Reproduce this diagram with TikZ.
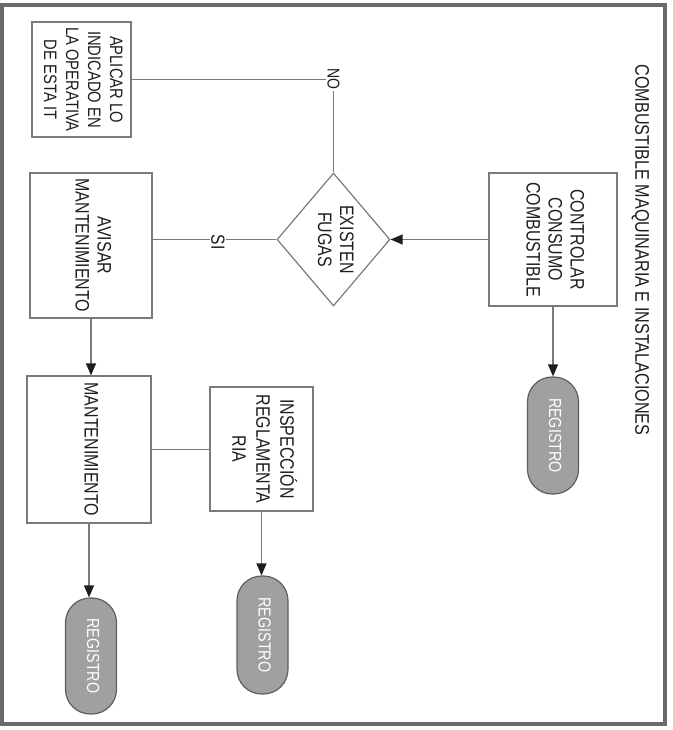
\documentclass[tikz,border=0pt]{standalone}
\usepackage{fontspec}
\setmainfont{Liberation Sans}[FakeStretch=0.82]
\usepackage{graphicx}
\usetikzlibrary{shapes.geometric,arrows.meta}
\definecolor{linegray}{HTML}{7A7A7A}
\definecolor{framegray}{HTML}{6A6A6A}
\definecolor{ovalfill}{HTML}{A0A0A0}
\definecolor{ovaledge}{HTML}{5E5E5E}
\definecolor{txt}{HTML}{1E1E1E}
\newcommand{\vtxt}[1]{\rotatebox{-90}{\begin{tabular}{@{}c@{}}#1\end{tabular}}}
\begin{document}
\begin{tikzpicture}[x=0.75pt,y=-0.75pt,
  box/.style={draw=linegray, line width=0.9pt, rectangle, inner sep=0pt, text=txt,
    font=\fontsize{14.6pt}{16.5pt}\selectfont},
  dec/.style={draw=linegray, line width=0.9pt, diamond, inner sep=0pt, text=txt,
    font=\fontsize{14.6pt}{16.5pt}\selectfont},
  oval/.style={draw=ovaledge, line width=0.9pt, fill=ovalfill, rectangle,
    rounded corners=18.5pt, inner sep=0pt, text=white, minimum width=38.25pt,
    font=\fontsize{13.1pt}{15pt}\selectfont},
  lbl/.style={fill=white, inner sep=1pt, text=txt},
  conn/.style={draw=linegray, line width=0.9pt},
  arr/.style={conn, -{Triangle[length=9pt,width=7.5pt,color=txt]}}
]
\useasboundingbox (0,0) rectangle (672,730);
\draw[framegray, line width=3pt] (2,5) rectangle (665,724);

\node[text=txt, font=\fontsize{14.8pt}{17pt}\selectfont] (title) at (640,250)
  {\vtxt{COMBUSTIBLE MAQUINARIA E INSTALACIONES}};

\node[box, minimum width=74.25pt, minimum height=86.25pt,
  font=\fontsize{13.5pt}{16.5pt}\selectfont] (aplicar) at (81.5,79.5)
  {\vtxt{APLICAR LO\\INDICADO EN\\LA OPERATIVA\\DE ESTA IT}};
\node[box, minimum width=91.5pt, minimum height=108.75pt] (avisar) at (91,245.5)
  {\vtxt{AVISAR\\MANTENIMIENTO}};
\node[dec, minimum width=84.75pt, minimum height=99.75pt] (fugas) at (333.5,239.5)
  {\vtxt{EXISTEN\\FUGAS}};
\node[box, minimum width=96pt, minimum height=99.75pt] (controlar) at (553,239.5)
  {\vtxt{CONTROLAR\\CONSUMO\\COMBUSTIBLE}};
\node[oval, minimum height=87.75pt] (reg1) at (553,435.5) {\vtxt{REGISTRO}};
\node[box, minimum width=93pt, minimum height=110.25pt] (mant) at (89,449.5)
  {\vtxt{MANTENIMIENTO}};
\node[box, minimum width=77.25pt, minimum height=93pt] (insp) at (261.5,449)
  {\rotatebox{-90}{\begin{tabular}{@{}c@{}}INSPECCIÓN\\[1.5pt]REGLAMENTA\\[1.5pt]RIA\end{tabular}}};
\node[oval, minimum height=88.5pt] (reg2) at (262.5,635) {\vtxt{REGISTRO}};
\node[oval, minimum height=87pt] (reg3) at (91,656) {\vtxt{REGISTRO}};

% connectors
\draw[arr] (controlar.west) -- (fugas.east);
\draw[arr] (controlar.south) -- (controlar.south |- reg1.north);
\draw[conn] (fugas.west) -- (fugas.west -| avisar.east);
\node[lbl, font=\fontsize{14.3pt}{16pt}\selectfont] (si) at (218,242) {\rotatebox{-90}{SI}};
\draw[conn] (fugas.north) |- (aplicar.east);
\node[lbl, font=\fontsize{12.8pt}{15pt}\selectfont] (no) at (333.5,79) {\rotatebox{-90}{NO}};
\draw[arr] (avisar.south) -- (avisar.south |- mant.north);
\draw[conn] (mant.east) -- (mant.east -| insp.west);
\draw[arr] (insp.south) -- (insp.south |- reg2.north);
\draw[arr] (mant.south) -- (mant.south |- reg3.north);
\end{tikzpicture}
\end{document}
